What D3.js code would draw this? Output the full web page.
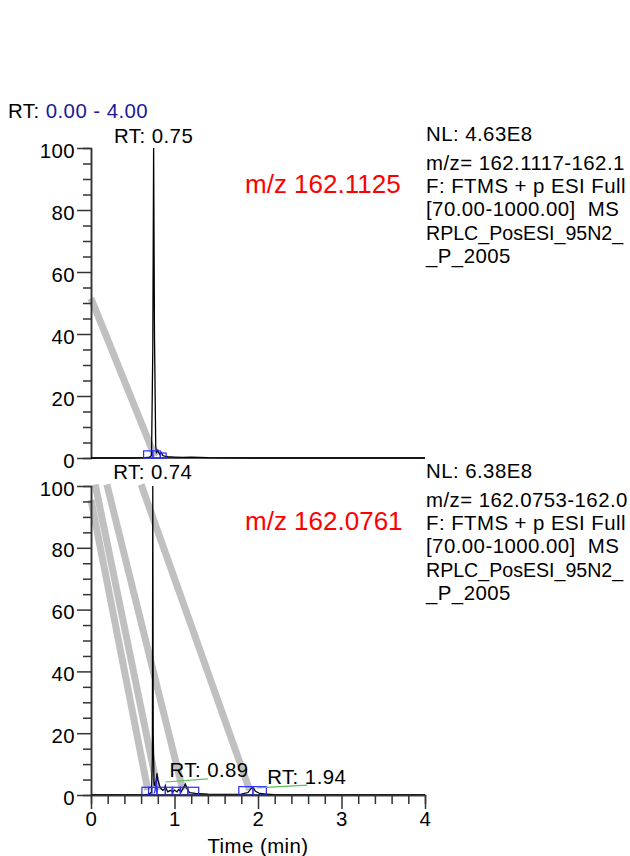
<!DOCTYPE html>
<html><head><meta charset="utf-8">
<script src="https://cdn.jsdelivr.net/npm/d3@7"></script>
<style>
html,body{margin:0;padding:0;background:#fff;overflow:hidden;}
svg{display:block;font-family:"Liberation Sans",Arial,sans-serif;}
text{letter-spacing:0.45px;white-space:pre;}
</style></head><body>
<svg id="chart" width="630" height="856"></svg>
<script>
// ---- data ----
const xMajorTicks = [0, 1, 2, 3, 4];
const yMajorTicks = [0, 20, 40, 60, 80, 100];
const timeRange = "0.00 - 4.00";

// top chromatogram (m/z 162.1125)
const topTime = [0, 0.5, 0.65, 0.70, 0.725, 0.74, 0.75, 0.76, 0.775, 0.785, 0.80, 0.82, 0.84, 0.86, 0.88, 0.92, 1.0, 1.1, 1.2, 1.3, 1.4, 1.6, 2.0, 4.0];
const topInt  = [0, 0, 0.1, 0.3, 0.8, 35, 100, 40, 4, 1.5, 2.5, 1.2, 1.8, 0.8, 0.6, 0.4, 0.3, 0.2, 0.3, 0.2, 0.1, 0.05, 0, 0];
// bottom chromatogram (m/z 162.0761)
const botTime = [0, 0.5, 0.65, 0.70, 0.725, 0.735, 0.74, 0.745, 0.755, 0.77, 0.78, 0.79, 0.80, 0.82, 0.84, 0.86, 0.88, 0.89, 0.90, 0.92, 0.95, 0.98, 1.0, 1.03, 1.05, 1.08, 1.11, 1.13, 1.15, 1.18, 1.25, 1.4, 1.6, 1.8, 1.88, 1.92, 1.94, 1.97, 2.02, 2.1, 2.2, 2.5, 4.0];
const botInt  = [0, 0, 0.1, 0.3, 1, 12, 100, 20, 3, 4, 3, 7, 5, 3, 2, 1.5, 2, 3, 2, 1, 1.5, 1, 1.6, 1, 1.8, 1, 2.5, 3.5, 2, 0.8, 0.5, 0.3, 0.2, 0.3, 0.8, 2.2, 2.5, 1.2, 0.5, 0.3, 0.1, 0, 0];
const botBlueTime = [0.755, 0.768, 0.78, 0.79];
const botBlueInt  = [0.5, 1.5, 5.5, 1.0];

// peak marker boxes [start, end, height]
const topBoxes = [[0.63, 0.74, 2.3], [0.74, 0.83, 2.3], [0.83, 0.90, 1.6]];
const botBoxes = [[0.61, 0.73, 2.5], [0.69, 0.79, 2.5], [0.79, 0.89, 2.5], [0.89, 0.98, 2.5], [0.97, 1.07, 2.5], [1.07, 1.16, 2.5], [1.16, 1.29, 2.5], [1.77, 1.94, 2.7], [1.94, 2.10, 2.7]];

// gray leader lines [[t0, i0], [t1, i1]]
const topLeaders = [[[0, 51.5], [0.765, 0.5]]];
const botLeaders = [[[0, 95.5], [0.68, 1.6]], [[0.05, 100.5], [0.80, 1.6]], [[0.19, 100.5], [1.10, 1.6]], [[0.60, 100.5], [1.90, 1.6]]];

// green label connectors
const botGreen = [[[0.89, 4.2], [1.40, 5.2]], [[1.99, 2.3], [2.59, 3.2]]];

// annotations
const topPeakLabel = {t: 0.75, text: "RT: 0.75"};
const botPeakLabels = [{t: 0.74, text: "RT: 0.74"}, {t: 0.94, i: 5.8, text: "RT: 0.89"}, {t: 2.11, i: 3.6, text: "RT: 1.94"}];
const topInfo = ["NL: 4.63E8", "m/z= 162.1117-162.1", "F: FTMS + p ESI Full", "[70.00-1000.00]  MS", "RPLC_PosESI_95N2_", "_P_2005"];
const botInfo = ["NL: 6.38E8", "m/z= 162.0753-162.0", "F: FTMS + p ESI Full", "[70.00-1000.00]  MS", "RPLC_PosESI_95N2_", "_P_2005"];
const topMz = "m/z 162.1125";
const botMz = "m/z 162.0761";
const xTitle = "Time (min)";

// ---- drawing ----
const svg = d3.select("#chart");
const x = d3.scaleLinear().domain([0, 4]).range([91, 425]);
const yTop = d3.scaleLinear().domain([0, 100]).range([458, 148]);
const yBot = d3.scaleLinear().domain([0, 100]).range([795, 486]);
const FS = 20.4;
const axisColor = "#333";

svg.append("text").attr("x", 8).attr("y", 118).attr("font-size", FS)
  .call(t => { t.append("tspan").text("RT: ").attr("fill", "#000");
               t.append("tspan").text(timeRange).attr("fill", "#1a1a9c"); });

function panel(y, time, inten, boxes, leaders, info, mz, infoBase) {
  const g = svg.append("g");
  leaders.forEach(l => g.append("line")
    .attr("x1", x(l[0][0])).attr("y1", y(l[0][1]))
    .attr("x2", x(l[1][0])).attr("y2", y(l[1][1]))
    .attr("stroke", "#c0c0c0").attr("stroke-width", 7));
  const minor = d3.range(0, 101, 5).filter(v => v % 20 !== 0);
  const ga = g.append("g").attr("transform", `translate(${x(0)},0)`)
    .call(d3.axisLeft(y).tickValues(yMajorTicks).tickSize(14).tickSizeOuter(0).tickPadding(2));
  ga.selectAll("text").attr("font-size", FS).attr("font-family", "Liberation Sans, Arial, sans-serif").attr("fill", "#000").attr("dy", "0.45em");
  const gm = g.append("g").attr("transform", `translate(${x(0)},0)`)
    .call(d3.axisLeft(y).tickValues(minor).tickSize(8).tickFormat(""));
  [ga, gm].forEach(a => { a.selectAll("line,path").attr("stroke", axisColor).attr("stroke-width", 1.5); });
  g.append("line").attr("x1", x(0)).attr("x2", x(4)).attr("y1", y(0)).attr("y2", y(0))
    .attr("stroke", "#222").attr("stroke-width", 1.6);
  const line = d3.line().x((d, i) => x(time[i])).y((d, i) => y(inten[i]));
  g.append("path").attr("d", line(inten)).attr("fill", "none").attr("stroke", "#000").attr("stroke-width", 1.3);
  boxes.forEach(b => g.append("rect")
    .attr("x", x(b[0])).attr("y", y(b[2])).attr("width", x(b[1]) - x(b[0])).attr("height", y(0) - y(b[2]))
    .attr("fill", "none").attr("stroke", "#2b2bff").attr("stroke-width", 1.2));
  info.forEach((s, i) => g.append("text").attr("x", 426)
    .attr("y", infoBase + (i === 0 ? 0 : 29 + (i - 1) * 23.2)).attr("font-size", i === 4 ? 19.6 : FS).attr("fill", "#000")
    .style("letter-spacing", i === 4 ? "0px" : null).text(s));
  g.append("text").attr("x", 245).attr("y", infoBase + 52).attr("font-size", 26).style("letter-spacing", "0px").attr("fill", "#ff0000").text(mz);
  return g;
}

const gTop = panel(yTop, topTime, topInt, topBoxes, topLeaders, topInfo, topMz, 141);
const gBot = panel(yBot, botTime, botInt, botBoxes, botLeaders, botInfo, botMz, 478);

gBot.append("path").attr("d", d3.line().x((d, i) => x(botBlueTime[i])).y((d, i) => yBot(botBlueInt[i]))(botBlueInt))
  .attr("fill", "none").attr("stroke", "#2b2bff").attr("stroke-width", 1.2);

botGreen.forEach(l => gBot.append("line")
  .attr("x1", x(l[0][0])).attr("y1", yBot(l[0][1])).attr("x2", x(l[1][0])).attr("y2", yBot(l[1][1]))
  .attr("stroke", "#5cbf5c").attr("stroke-width", 1.2));

svg.append("text").attr("x", x(topPeakLabel.t)).attr("y", 143).attr("text-anchor", "middle").attr("font-size", FS).text(topPeakLabel.text);
svg.append("text").attr("x", x(botPeakLabels[0].t)).attr("y", 479).attr("text-anchor", "middle").attr("font-size", FS).text(botPeakLabels[0].text);
botPeakLabels.slice(1).forEach(p => svg.append("text").attr("x", x(p.t)).attr("y", yBot(p.i))
  .attr("text-anchor", "start").attr("font-size", FS).text(p.text));

const xMinor = d3.range(0, 4.001, 0.2).filter(v => Math.abs(v - Math.round(v)) > 1e-6);
const xa = svg.append("g").attr("transform", `translate(0,${yBot(0)})`)
  .call(d3.axisBottom(x).tickValues(xMajorTicks).tickSize(14).tickSizeOuter(0).tickPadding(0).tickFormat(d3.format("d")));
xa.selectAll("text").attr("font-size", FS).attr("font-family", "Liberation Sans, Arial, sans-serif").attr("fill", "#000").attr("dy", "0.85em");
const xm = svg.append("g").attr("transform", `translate(0,${yBot(0)})`)
  .call(d3.axisBottom(x).tickValues(xMinor).tickSize(9).tickFormat(""));
[xa, xm].forEach(a => { a.selectAll("line,path").attr("stroke", axisColor).attr("stroke-width", 1.5); });
svg.append("text").attr("x", x(2)).attr("y", 853).attr("text-anchor", "middle").attr("font-size", FS).text(xTitle);
</script>
</body></html>
